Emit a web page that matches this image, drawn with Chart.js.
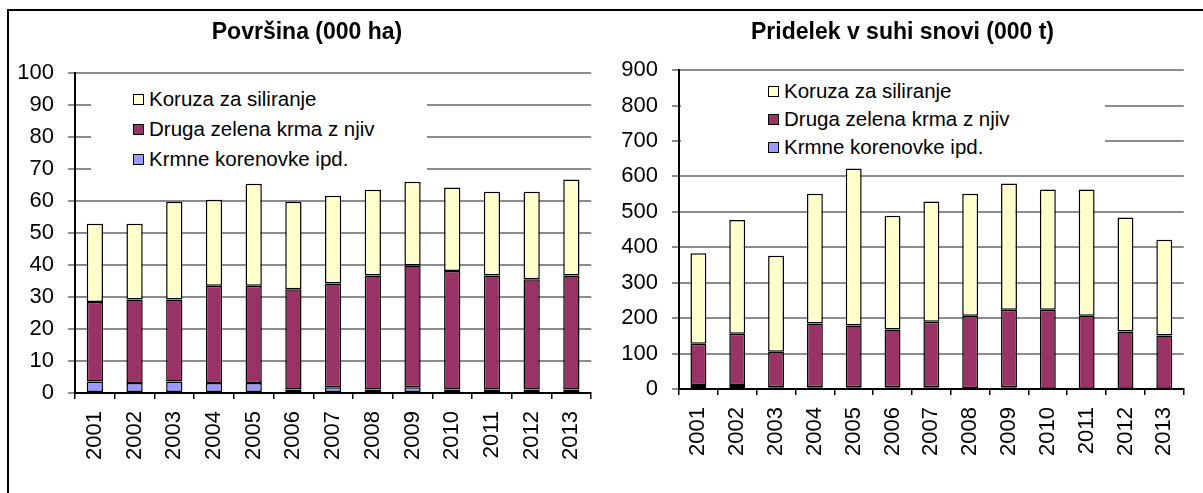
<!DOCTYPE html>
<html>
<head>
<meta charset="utf-8">
<script src="https://cdn.jsdelivr.net/npm/chart.js@4.4.1/dist/chart.umd.min.js"></script>
<style>
  html, body { margin: 0; padding: 0; background: #fff; }
  body { width: 1203px; height: 493px; position: relative; overflow: hidden; font-family: "Liberation Sans", Arial, sans-serif; }
  .frame { position: absolute; left: 7px; top: 9px; width: 1200px; height: 500px; border-top: 2px solid #000; border-left: 2px solid #000; }
  .box { position: absolute; }
  .legend { position: absolute; background: #fff; font-size: 20.5px; color: #000; box-sizing: border-box; }
  .legend .row { display: flex; align-items: center; white-space: nowrap; }
  .legend .sw { width: 9px; height: 9px; border: 1.5px solid #000; margin-right: 5px; flex: none; }
</style>
</head>
<body>
<div class="frame"></div>
<div class="box" style="left:10px; top:10px; width:600px; height:483px;"><canvas id="areaChart"></canvas></div>
<div class="box" style="left:610px; top:10px; width:593px; height:483px;"><canvas id="yieldChart"></canvas></div>
<div class="legend" id="areaLegend" style="left:91px; top:80px; width:336px; height:96px; padding-left:42px; padding-top:4px;"></div>
<div class="legend" id="yieldLegend" style="left:681px; top:76px; width:424px; height:86px; padding-left:87px; padding-top:1px;"></div>

<script>
// categories
const years = ["2001", "2002", "2003", "2004", "2005", "2006", "2007", "2008", "2009", "2010", "2011", "2012", "2013"];

// series labels and colours (bottom of the stack first)
const seriesLabels = ["Krmne korenovke ipd.", "Druga zelena krma z njiv", "Koruza za siliranje"];
const seriesColors = ["#9999FF", "#993366", "#FFFFCC"];

// Površina (000 ha)
const areaRoots = [3.6, 3.1, 3.6, 3.1, 3.1, 1.1, 1.8, 1.1, 1.8, 1.1, 1.1, 1.1, 1.1];
const areaGreen = [24.8, 26.1, 25.6, 30.4, 30.4, 31.3, 32.4, 35.6, 38.0, 37.0, 35.6, 34.4, 35.6];
const areaMaize = [24.4, 23.6, 30.5, 26.8, 31.8, 27.3, 27.4, 26.7, 26.1, 26.0, 26.1, 27.3, 29.9];

// Pridelek v suhi snovi (000 t)
const yieldRoots = [11, 11, 5, 5, 5, 5, 5, 2, 5, 1, 1, 1, 1];
const yieldGreen = [117, 145, 100, 180, 174, 163, 185, 205, 219, 223, 206, 161, 150];
const yieldMaize = [255, 321, 271, 366, 443, 321, 339, 344, 356, 339, 356, 322, 270];

const FONT = "'Liberation Sans', Arial, sans-serif";

function buildDatasets(series) {
  return series.map((data, i) => ({
    label: seriesLabels[i],
    data: data,
    backgroundColor: seriesColors[i],
    borderColor: "#000",
    borderWidth: 1.5,
    borderSkipped: false,
    barPercentage: 0.41,
    categoryPercentage: 1
  }));
}

function makeChart(id, titleText, series, yMax, yStep, yWidth, padRight, xHeight, titleGap) {
  return new Chart(document.getElementById(id), {
    type: "bar",
    data: { labels: years, datasets: buildDatasets(series) },
    options: {
      responsive: true,
      maintainAspectRatio: false,
      animation: false,
      layout: { padding: { left: 0, right: padRight, top: 0, bottom: 0 } },
      plugins: {
        legend: { display: false },
        tooltip: { enabled: false },
        title: {
          display: true,
          text: titleText,
          color: "#000",
          font: { family: FONT, size: 23, weight: "bold", lineHeight: 1.2 },
          padding: { top: 9, bottom: titleGap }
        }
      },
      scales: {
        x: {
          stacked: true,
          afterFit: (s) => { s.height = xHeight; },
          grid: { display: true, drawOnChartArea: false, drawTicks: true, offset: true, tickLength: 6, color: "#000", lineWidth: 1.5 },
          border: { color: "#000", width: 2 },
          ticks: { color: "#000", font: { family: FONT, size: 22 }, minRotation: 90, maxRotation: 90, padding: 12, autoSkip: false }
        },
        y: {
          stacked: true,
          min: 0,
          max: yMax,
          afterFit: (s) => { s.width = yWidth; },
          grid: { color: "#8c8c8c", lineWidth: 2, tickLength: 7 },
          border: { color: "#000", width: 2 },
          ticks: { stepSize: yStep, color: "#000", font: { family: FONT, size: 22 }, padding: 14 }
        }
      }
    }
  });
}

function buildLegend(id, rowHeight) {
  const el = document.getElementById(id);
  for (let i = seriesLabels.length - 1; i >= 0; i--) {
    const row = document.createElement("div");
    row.className = "row";
    row.style.height = rowHeight + "px";
    const sw = document.createElement("span");
    sw.className = "sw";
    sw.style.background = seriesColors[i];
    const txt = document.createElement("span");
    txt.textContent = seriesLabels[i];
    row.appendChild(sw);
    row.appendChild(txt);
    el.appendChild(row);
  }
}

makeChart("areaChart", "Površina (000 ha)", [areaRoots, areaGreen, areaMaize], 100, 10, 65, 6, 100, 26);
makeChart("yieldChart", "Pridelek v suhi snovi (000 t)", [yieldRoots, yieldGreen, yieldMaize], 900, 100, 69, 8, 104, 23.5);

buildLegend("areaLegend", 30);
buildLegend("yieldLegend", 28);
</script>
</body>
</html>
